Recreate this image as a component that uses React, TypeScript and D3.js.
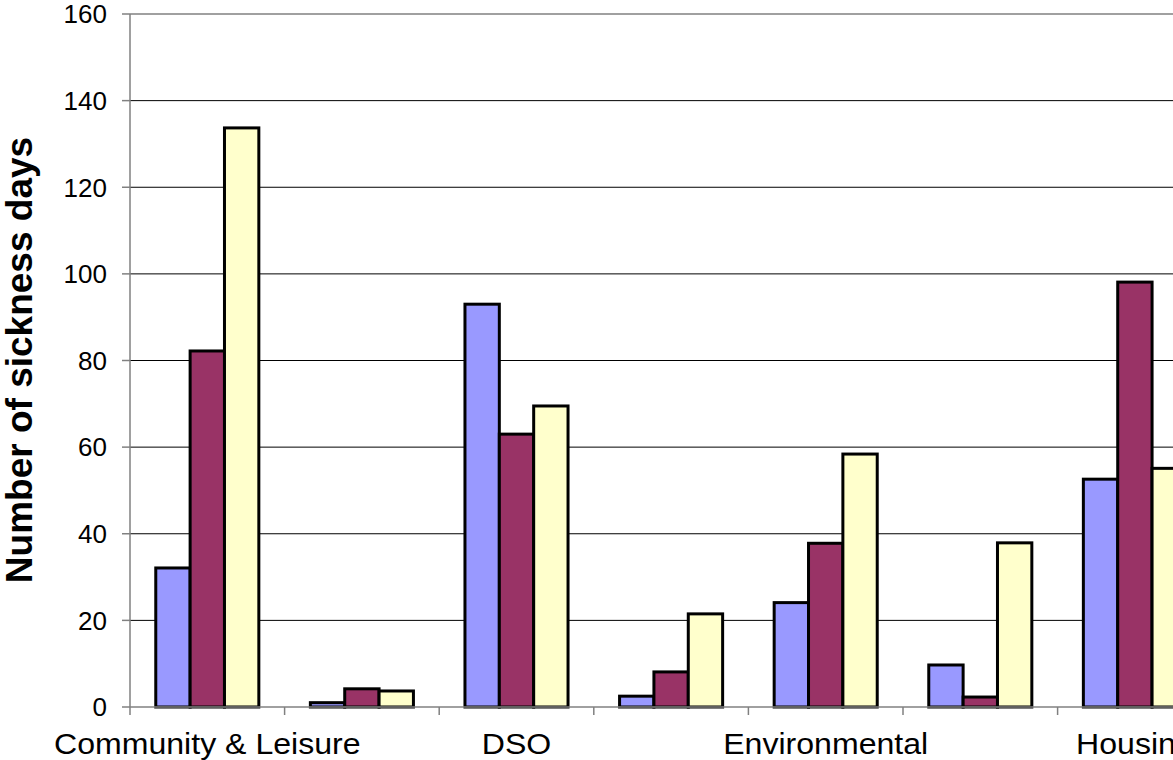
import React from "react";
import * as d3 from "d3";

const categories = ["Community & Leisure", "Corporate", "DSO", "Education", "Environmental", "Finance", "Housing"];
const shownLabels = ["Community & Leisure", "", "DSO", "", "Environmental", "", "Housing"];
const seriesA = [32.1, 1.0, 93.0, 2.5, 24.1, 9.7, 52.6];
const seriesB = [82.2, 4.2, 63.0, 8.1, 37.8, 2.3, 98.1];
const seriesC = [133.7, 3.7, 69.5, 21.5, 58.4, 37.9, 55.1];
const seriesNames = ["A", "B", "C"];
const seriesColors = ["#9999FF", "#993366", "#FFFFCC"];
const yTicks = [0, 20, 40, 60, 80, 100, 120, 140, 160];
const yTitle = "Number of sickness days";

const W = 1173;
const H = 760;
const left = 130;
const top = 14;
const bottom = 707;
const catWidth = 154.6;

export default function App() {
  const seriesData = [seriesA, seriesB, seriesC];
  const x = d3
    .scaleBand<number>()
    .domain(categories.map((_, i) => i))
    .range([left, left + categories.length * catWidth])
    .padding(0);
  const bw = x.bandwidth();
  const xs = d3
    .scaleBand<string>()
    .domain(seriesNames)
    .range([bw * (0.75 / 4.5), bw * (3.75 / 4.5)])
    .padding(0);
  const y = d3.scaleLinear().domain([0, 160]).range([bottom, top]);
  const font = "'Liberation Sans', Arial, sans-serif";
  const tickPositions = d3.range(categories.length + 1).map((i) => left + i * bw);

  return (
    <svg
      width={W}
      height={H}
      style={{ position: "absolute", left: 0, top: 0, background: "#fff" }}
      fontFamily={font}
    >
      <rect x={0} y={0} width={W} height={H} fill="#fff" />
      {yTicks.map((t) => (
        <g key={t}>
          {t > 0 && (
            <line
              x1={left}
              x2={W}
              y1={y(t)}
              y2={y(t)}
              stroke={t === 160 ? "#808080" : "#000"}
              strokeWidth={t === 160 ? 1.5 : 1}
            />
          )}
          <line x1={left - 8} x2={left} y1={y(t)} y2={y(t)} stroke="#808080" strokeWidth={1.5} />
          <text x={107} y={y(t)} dy="0.36em" textAnchor="end" fontSize={26} fill="#000">
            {t}
          </text>
        </g>
      ))}
      {seriesData.map((vals, si) =>
        vals.map((v, ci) => (
          <rect
            key={`${si}-${ci}`}
            x={(x(ci) as number) + (xs(seriesNames[si]) as number)}
            y={y(v)}
            width={xs.bandwidth()}
            height={bottom - y(v)}
            fill={seriesColors[si]}
            stroke="#000"
            strokeWidth={3}
          />
        ))
      )}
      <line x1={left} x2={left} y1={top} y2={bottom} stroke="#808080" strokeWidth={1.5} />
      <line x1={left} x2={W} y1={bottom} y2={bottom} stroke="#808080" strokeWidth={1.5} />
      {tickPositions.map((p, i) => (
        <line key={i} x1={p} x2={p} y1={bottom} y2={bottom + 8} stroke="#808080" strokeWidth={1.5} />
      ))}
      {shownLabels.map((lab, i) =>
        lab ? (
          <text
            key={i}
            transform={`translate(${(x(i) as number) + bw / 2}, 754) scale(1.07, 1)`}
            textAnchor="middle"
            fontSize={30}
            fill="#000"
          >
            {lab}
          </text>
        ) : null
      )}
      <text
        transform={`translate(32, 360) rotate(-90)`}
        textAnchor="middle"
        fontSize={37}
        fontWeight="bold"
        fill="#000"
      >
        {yTitle}
      </text>
    </svg>
  );
}
